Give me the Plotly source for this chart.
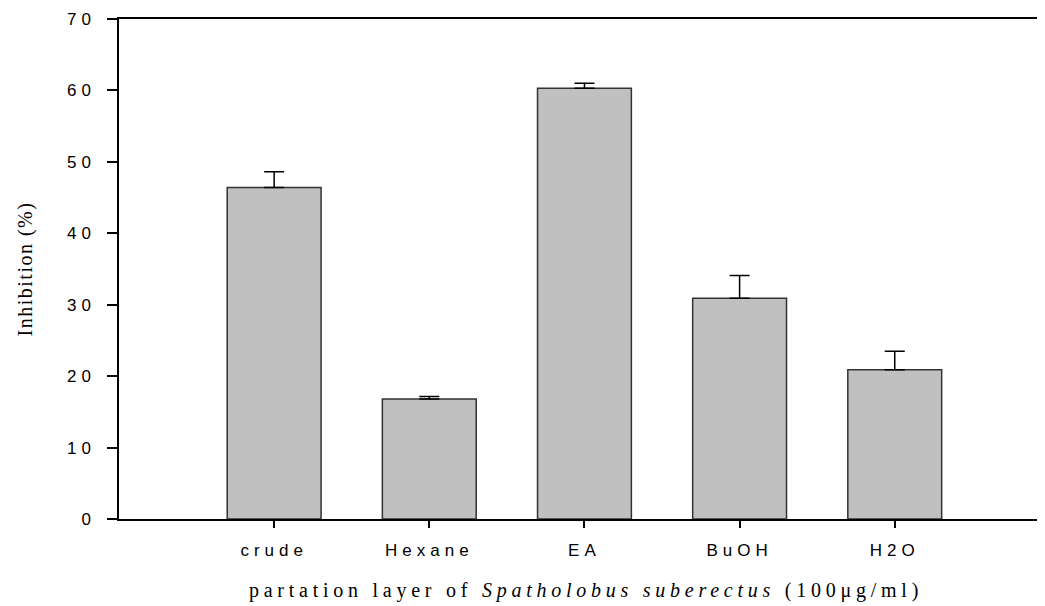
import plotly.graph_objects as go

categories = ["crude", "Hexane", "EA", "BuOH", "H2O"]
inhibition = [46.4, 16.8, 60.3, 30.9, 20.9]
error_up = [2.2, 0.35, 0.7, 3.2, 2.6]
y_ticks = [0, 10, 20, 30, 40, 50, 60, 70]

fig = go.Figure()
fig.add_trace(go.Bar(
    x=categories,
    y=inhibition,
    width=0.605,
    marker=dict(color="#c0c0c0", line=dict(color="#333333", width=1.5)),
    error_y=dict(type="data", array=error_up, arrayminus=[0] * len(error_up),
                 symmetric=False, color="#000000", thickness=1.5, width=10),
    showlegend=False,
))

fig.update_layout(
    width=1045, height=606,
    margin=dict(l=111, r=0, t=11, b=95),
    paper_bgcolor="white", plot_bgcolor="white",
    font=dict(family="Liberation Sans, Arial, sans-serif", color="#000000", size=17),
)
fig.update_xaxes(
    type="category", range=[-1, 5.02], automargin=False,
    showline=True, linecolor="#000000", linewidth=1.5, mirror=True,
    ticks="outside", ticklen=7, tickwidth=1.5, tickcolor="#000000",
    ticklabelstandoff=8,
    showgrid=False, zeroline=False,
    title=dict(text="partation layer of <i>Spatholobus suberectus</i> (100μg/ml)",
               font=dict(family="Liberation Serif, Times New Roman, serif", size=20),
               standoff=24),
)
fig.update_yaxes(
    range=[0, 70], tickvals=y_ticks, automargin=False,
    showline=True, linecolor="#000000", linewidth=1.5, mirror=False,
    ticks="outside", ticklen=10, tickwidth=1.5, tickcolor="#000000",
    ticklabelstandoff=8,
    showgrid=False, zeroline=False,
    title=dict(text="Inhibition (%)",
               font=dict(family="Liberation Serif, Times New Roman, serif", size=20),
               standoff=39),
)

post = """
function sp(sel, v){document.querySelectorAll(sel).forEach(function(t){t.style.letterSpacing=v;});}
sp('.xtick text','5px'); sp('.ytick text','5px'); sp('.xtitle','4.75px'); sp('.ytitle','1.5px');
"""
fig.write_html("out.html", post_script=post)
